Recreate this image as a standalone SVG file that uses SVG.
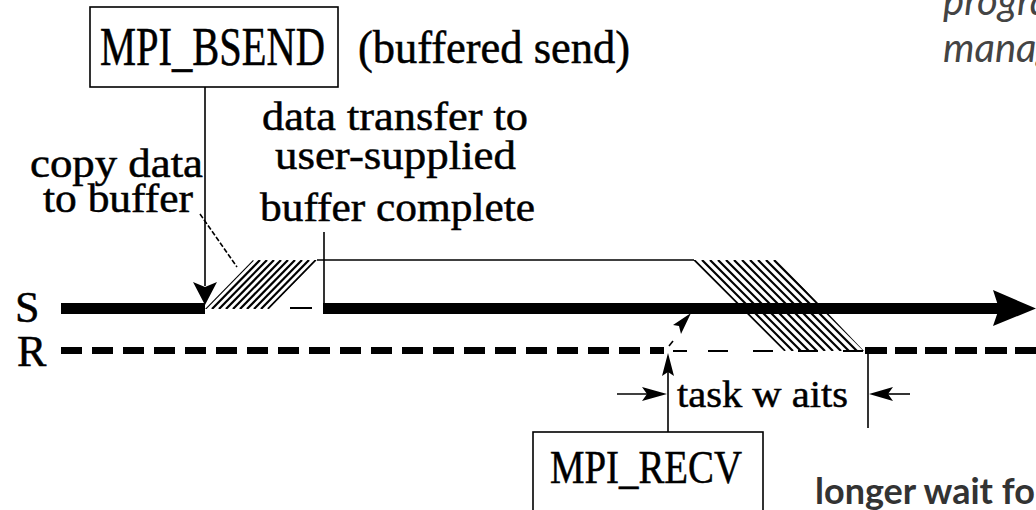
<svg xmlns="http://www.w3.org/2000/svg" width="1036" height="510" viewBox="0 0 1036 510">
<style>
.serif{font-family:"Liberation Serif","Times New Roman",serif;fill:#000;stroke:#000;stroke-width:0.5}
.thin{stroke:#000;stroke-width:1.6;fill:none}
.hatch{stroke:#000;stroke-width:2.2}
.box{fill:#fff;stroke:#000;stroke-width:1.6}
.note{font-family:Lato,"Open Sans",sans-serif;fill:#444}
</style>
<defs>
<clipPath id="cp1"><polygon points="205,309 253,260 317,260 269,309"/></clipPath>
<clipPath id="cp2"><polygon points="693,260 777,260 864,351 784,351"/></clipPath>
</defs>
<rect width="1036" height="510" fill="#fff"/>

<g id="notes">
<text class="note" x="943" y="15" font-size="40" font-style="italic">progra</text>
<text class="note" x="943" y="62" font-size="40" font-style="italic">manag</text>
<text class="note" x="815" y="504" font-size="36" font-weight="700" style="fill:#333">longer wait fo</text>
</g>

<g id="axis-labels">
<text class="serif" x="15" y="322" font-size="44">S</text>
<text class="serif" x="17" y="366" font-size="44">R</text>
</g>

<g id="timelines">
<line x1="61" y1="308.5" x2="205" y2="308.5" stroke="#000" stroke-width="11"/>
<line x1="290" y1="308" x2="312" y2="308" stroke="#000" stroke-width="2"/>
<line x1="61" y1="350.5" x2="664" y2="350.5" stroke="#000" stroke-width="7" stroke-dasharray="21 10"/>
<line x1="673" y1="351" x2="863" y2="351" stroke="#000" stroke-width="2" stroke-dasharray="14 21 20 25 20 25 20 25 20"/>
<line x1="865" y1="350.5" x2="1036" y2="350.5" stroke="#000" stroke-width="7" stroke-dasharray="22 8"/>
</g>

<g id="hatch-copy" clip-path="url(#cp1)">
<line class="hatch" x1="205" y1="309" x2="253" y2="260"/>
<line class="hatch" x1="212" y1="309" x2="260" y2="260"/>
<line class="hatch" x1="219" y1="309" x2="267" y2="260"/>
<line class="hatch" x1="226" y1="309" x2="274" y2="260"/>
<line class="hatch" x1="233" y1="309" x2="281" y2="260"/>
<line class="hatch" x1="240" y1="309" x2="288" y2="260"/>
<line class="hatch" x1="247" y1="309" x2="295" y2="260"/>
<line class="hatch" x1="254" y1="309" x2="302" y2="260"/>
<line class="hatch" x1="261" y1="309" x2="309" y2="260"/>
<line class="hatch" x1="268" y1="309" x2="316" y2="260"/>
</g>

<g id="hatch-transfer" clip-path="url(#cp2)">
<line class="hatch" x1="694" y1="260" x2="785" y2="351"/>
<line class="hatch" x1="702" y1="260" x2="793" y2="351"/>
<line class="hatch" x1="710" y1="260" x2="801" y2="351"/>
<line class="hatch" x1="718" y1="260" x2="809" y2="351"/>
<line class="hatch" x1="726" y1="260" x2="817" y2="351"/>
<line class="hatch" x1="734" y1="260" x2="825" y2="351"/>
<line class="hatch" x1="742" y1="260" x2="833" y2="351"/>
<line class="hatch" x1="750" y1="260" x2="841" y2="351"/>
<line class="hatch" x1="758" y1="260" x2="849" y2="351"/>
<line class="hatch" x1="766" y1="260" x2="857" y2="351"/>
<line class="hatch" x1="774" y1="260" x2="865" y2="351"/>
</g>

<g id="send-line">
<line x1="323" y1="308.5" x2="1000" y2="308.5" stroke="#000" stroke-width="11"/>
<polygon points="993,290 1036,308.5 993,326 999,308.5" fill="#000"/>
</g>

<g id="connectors">
<line class="thin" x1="205" y1="87" x2="205" y2="286"/>
<polygon points="205,305 193,282 205,287 217,282" fill="#000"/>
<line class="thin" x1="200" y1="214" x2="237" y2="267" stroke-dasharray="5 2"/>
<line class="thin" x1="324" y1="232" x2="324" y2="310"/>
<line class="thin" x1="317" y1="260" x2="694" y2="260"/>
<polygon points="691,313 673,325 679,326 681,334" fill="#000"/>
<line class="thin" x1="669" y1="346" x2="673" y2="341"/>
<line class="thin" x1="668" y1="372" x2="668" y2="432"/>
<polygon points="668,353 662,376 668,372 674,376" fill="#000"/>
<line class="thin" x1="617" y1="394" x2="650" y2="394"/>
<polygon points="667,394 642,387 647,394 642,401" fill="#000"/>
<line class="thin" x1="868" y1="351" x2="868" y2="428"/>
<line class="thin" x1="885" y1="394" x2="910" y2="394"/>
<polygon points="869,394 893,387 888,394 893,401" fill="#000"/>
</g>

<g id="mpi-bsend">
<rect class="box" x="90" y="7" width="248" height="80"/>
<text class="serif" x="100" y="65" font-size="54" textLength="225" lengthAdjust="spacingAndGlyphs">MPI_BSEND</text>
</g>
<g id="bsend-note">
<text class="serif" x="358" y="63" font-size="46" textLength="272" lengthAdjust="spacingAndGlyphs">(buffered send)</text>
</g>
<g id="copy-label">
<text class="serif" x="30" y="177" font-size="40" textLength="173" lengthAdjust="spacingAndGlyphs">copy data</text>
<text class="serif" x="43" y="212" font-size="40" textLength="150" lengthAdjust="spacingAndGlyphs">to buffer</text>
</g>
<g id="transfer-label">
<text class="serif" x="262" y="130" font-size="40" textLength="266" lengthAdjust="spacingAndGlyphs">data transfer to</text>
<text class="serif" x="275" y="169" font-size="40" textLength="241" lengthAdjust="spacingAndGlyphs">user-supplied</text>
<text class="serif" x="260" y="221" font-size="40" textLength="275" lengthAdjust="spacingAndGlyphs">buffer complete</text>
</g>
<g id="wait-label">
<text class="serif" x="677" y="407" font-size="38" textLength="171" lengthAdjust="spacingAndGlyphs">task w aits</text>
</g>
<g id="mpi-recv">
<rect class="box" x="533" y="432" width="230" height="90"/>
<text class="serif" x="550" y="483" font-size="46" textLength="192" lengthAdjust="spacingAndGlyphs">MPI_RECV</text>
</g>
</svg>
